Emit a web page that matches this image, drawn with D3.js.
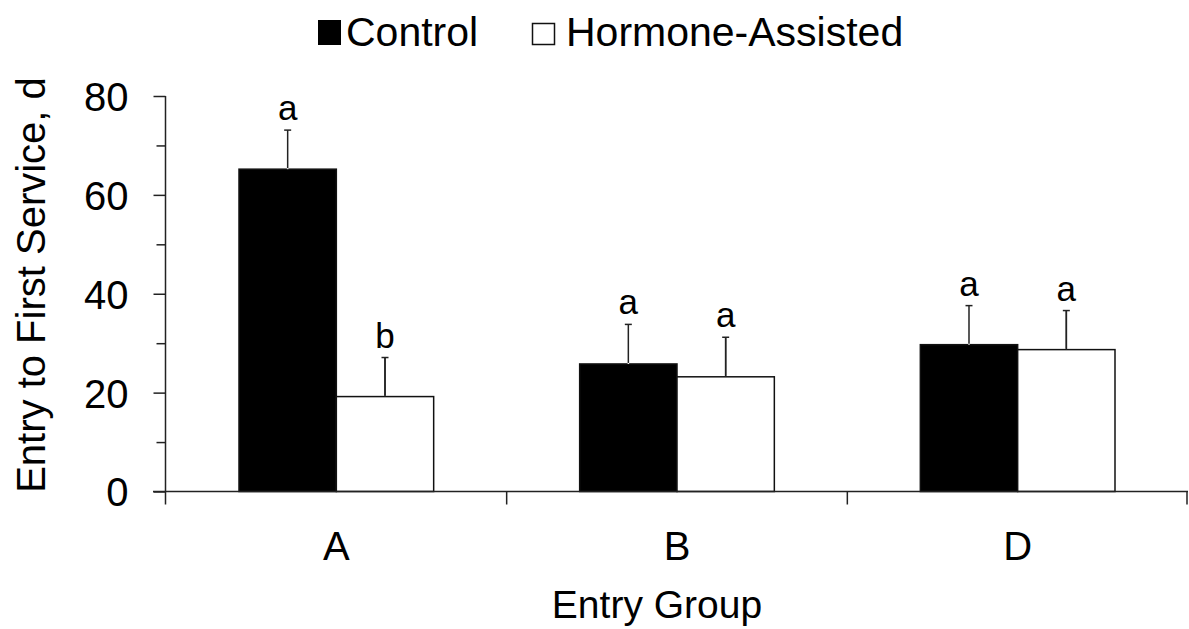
<!DOCTYPE html>
<html>
<head>
<meta charset="utf-8">
<script src="https://cdn.jsdelivr.net/npm/d3@7/dist/d3.min.js"></script>
<style>
  body { margin: 0; background: #fff; }
  svg { display: block; }
  text { font-family: "Liberation Sans", Arial, sans-serif; fill: #000; }
</style>
</head>
<body>
<svg id="chart" width="1189" height="629"></svg>
<script>
// ---- Data ----
const categories = ["A", "B", "D"];
const seriesNames = ["Control", "Hormone-Assisted"];
const controlMeans = [65.2, 25.8, 29.7];
const controlErr = [7.9, 8.0, 7.9];
const hormoneMeans = [19.2, 23.2, 28.7];
const hormoneErr = [7.9, 8.0, 7.9];
const controlLetters = ["a", "a", "a"];
const hormoneLetters = ["b", "a", "a"];
const yTicks = [0, 20, 40, 60, 80];
const yMinorTicks = [10, 30, 50, 70];
const xLabel = "Entry Group";
const yLabel = "Entry to First Service, d";

const rows = categories.map((c, i) => ({
  cat: c,
  bars: [
    { s: seriesNames[0], v: controlMeans[i], e: controlErr[i], l: controlLetters[i] },
    { s: seriesNames[1], v: hormoneMeans[i], e: hormoneErr[i], l: hormoneLetters[i] }
  ]
}));

const svg = d3.select("#chart");
const fill = { "Control": "#000", "Hormone-Assisted": "#fff" };

const x0 = d3.scaleBand().domain(categories).range([166, 1188]).paddingInner(0).paddingOuter(0);
const x1 = d3.scaleBand().domain(seriesNames).range([0, x0.bandwidth()]).paddingInner(0).paddingOuter(0.75);
const y = d3.scaleLinear().domain([0, 80]).range([491.5, 96]);

// Bars
const g = svg.append("g");
const groups = g.selectAll("g.cat").data(rows).join("g")
  .attr("transform", d => `translate(${x0(d.cat)},0)`);

groups.selectAll("rect").data(d => d.bars).join("rect")
  .attr("x", d => x1(d.s))
  .attr("y", d => y(d.v))
  .attr("width", x1.bandwidth())
  .attr("height", d => y(0) - y(d.v))
  .attr("fill", d => fill[d.s])
  .attr("stroke", "#111")
  .attr("stroke-width", 1.5);

// Error bars (upper only)
groups.selectAll("line.err").data(d => d.bars).join("line")
  .attr("class", "err")
  .attr("x1", d => x1(d.s) + x1.bandwidth() / 2)
  .attr("x2", d => x1(d.s) + x1.bandwidth() / 2)
  .attr("y1", d => y(d.v))
  .attr("y2", d => y(d.v + d.e))
  .attr("stroke", d => d.s === "Control" ? "#fff" : "#222")
  .attr("stroke-width", 1.5);
groups.selectAll("line.err2").data(d => d.bars).join("line")
  .attr("class", "err2")
  .attr("x1", d => x1(d.s) + x1.bandwidth() / 2)
  .attr("x2", d => x1(d.s) + x1.bandwidth() / 2)
  .attr("y1", d => y(d.v) - 1)
  .attr("y2", d => y(d.v + d.e))
  .attr("stroke", "#222")
  .attr("stroke-width", 1.5);
groups.selectAll("line.cap").data(d => d.bars).join("line")
  .attr("class", "cap")
  .attr("x1", d => x1(d.s) + x1.bandwidth() / 2 - 3.5)
  .attr("x2", d => x1(d.s) + x1.bandwidth() / 2 + 3.5)
  .attr("y1", d => y(d.v + d.e))
  .attr("y2", d => y(d.v + d.e))
  .attr("stroke", "#222")
  .attr("stroke-width", 1.5);

// Significance letters
groups.selectAll("text.sig").data(d => d.bars).join("text")
  .attr("class", "sig")
  .attr("x", d => x1(d.s) + x1.bandwidth() / 2)
  .attr("y", d => y(d.v + d.e) - 10)
  .attr("text-anchor", "middle")
  .attr("font-size", 35)
  .text(d => d.l);

// Y axis
const yAxis = d3.axisLeft(y).tickValues(yTicks).tickSize(12).tickPadding(25).tickFormat(d3.format("d"));
const ya = svg.append("g").attr("transform", "translate(165.5,0)").call(yAxis);
ya.select(".domain").remove();
ya.selectAll("line").attr("stroke", "#222").attr("stroke-width", 1.5);
ya.selectAll("text").attr("font-size", 40).attr("dy", "0.36em").style("font-family", "'Liberation Sans', Arial, sans-serif");
const yMinor = d3.axisLeft(y).tickValues(yMinorTicks).tickSize(9).tickFormat("");
const ym = svg.append("g").attr("transform", "translate(165.5,0)").call(yMinor);
ym.select(".domain").remove();
ym.selectAll("line").attr("stroke", "#222").attr("stroke-width", 1.5);
svg.append("line").attr("x1", 165.5).attr("x2", 165.5).attr("y1", y(80)).attr("y2", y(0) + 13)
  .attr("stroke", "#222").attr("stroke-width", 1.5);

// X axis
svg.append("line").attr("x1", 153).attr("x2", 1188).attr("y1", y(0)).attr("y2", y(0))
  .attr("stroke", "#222").attr("stroke-width", 1.5);
const boundaries = categories.map(c => x0(c)).concat([x0(categories[categories.length - 1]) + x0.bandwidth()]);
svg.selectAll("line.xtick").data(boundaries.slice(1)).join("line")
  .attr("class", "xtick")
  .attr("x1", d => Math.min(d, 1187)).attr("x2", d => Math.min(d, 1187))
  .attr("y1", y(0)).attr("y2", y(0) + 13)
  .attr("stroke", "#222").attr("stroke-width", 1.5);
svg.selectAll("text.xlab").data(categories).join("text")
  .attr("class", "xlab")
  .attr("x", d => x0(d) + x0.bandwidth() / 2)
  .attr("y", 560)
  .attr("text-anchor", "middle")
  .attr("font-size", 40)
  .text(d => d);

// Axis titles
svg.append("text").attr("x", 657).attr("y", 618).attr("text-anchor", "middle")
  .attr("font-size", 39).text(xLabel);
svg.append("text").attr("transform", "translate(45,285) rotate(-90)").attr("text-anchor", "middle")
  .attr("font-size", 40).text(yLabel);

// Legend
svg.append("rect").attr("x", 318).attr("y", 20).attr("width", 23).attr("height", 25).attr("fill", "#000");
svg.append("text").attr("x", 346).attr("y", 46).attr("font-size", 41).text(seriesNames[0]);
svg.append("rect").attr("x", 532.5).attr("y", 23.5).attr("width", 22).attr("height", 21)
  .attr("fill", "#fff").attr("stroke", "#111").attr("stroke-width", 1.5);
svg.append("text").attr("x", 566).attr("y", 46).attr("font-size", 41).text(seriesNames[1]);
</script>
</body>
</html>
